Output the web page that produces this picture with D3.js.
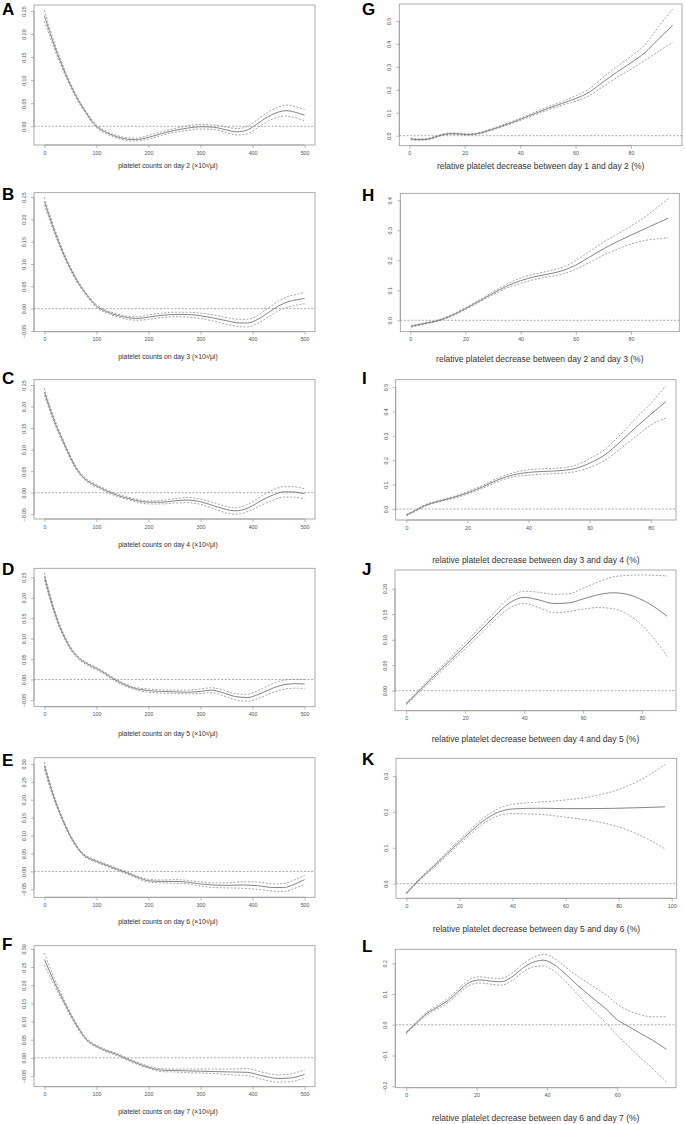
<!DOCTYPE html>
<html><head><meta charset="utf-8">
<script src="https://cdn.jsdelivr.net/npm/d3@7"></script>
<style>body{margin:0;background:#fff}svg{display:block}</style>
</head><body>
<svg id="c" width="685" height="1124"></svg>
<script>
// ---------- DATA ----------
const panelLetters = ["A","B","C","D","E","F","G","H","I","J","K","L"];
const xLabels = [
  "platelet counts on day 2 (×10³/μl)",
  "platelet counts on day 3 (×10³/μl)",
  "platelet counts on day 4 (×10³/μl)",
  "platelet counts on day 5 (×10³/μl)",
  "platelet counts on day 6 (×10³/μl)",
  "platelet counts on day 7 (×10³/μl)",
  "relative platelet decrease between day 1 and day 2 (%)",
  "relative platelet decrease between day 2 and day 3 (%)",
  "relative platelet decrease between day 3 and day 4 (%)",
  "relative platelet decrease between day 4 and day 5 (%)",
  "relative platelet decrease between day 5 and day 6 (%)",
  "relative platelet decrease between day 6 and day 7 (%)"
];
const xTicksCount = [0,100,200,300,400,500];
const xTicks80 = [0,20,40,60,80];
const xTicks100 = [0,20,40,60,80,100];
const xTicks60 = [0,20,40,60];
const yTicks025 = [0,0.05,0.10,0.15,0.20,0.25];
const yTicksM025 = [-0.05,0,0.05,0.10,0.15,0.20,0.25];
const yTicksM030 = [-0.05,0,0.05,0.10,0.15,0.20,0.25,0.30];
const yTicks05 = [0,0.1,0.2,0.3,0.4,0.5];
const yTicks04 = [0,0.1,0.2,0.3,0.4];
const yTicks020 = [0,0.05,0.10,0.15,0.20];
const yTicks03 = [0,0.1,0.2,0.3];
const yTicksL = [-0.2,-0.1,0,0.1,0.2];

// Panel A
const A_x   = [0,10,20,30,40,50,60,70,80,90,100,120,140,160,175,200,225,250,275,300,325,350,370,390,410,430,450,465,480,500];
const A_fit = [0.240,0.205,0.172,0.143,0.115,0.090,0.067,0.047,0.030,0.013,0.000,-0.014,-0.023,-0.028,-0.029,-0.024,-0.016,-0.009,-0.004,-0.001,-0.002,-0.008,-0.012,-0.008,0.006,0.021,0.031,0.034,0.031,0.024];
const A_lo  = [0.228,0.196,0.165,0.137,0.110,0.086,0.063,0.044,0.027,0.010,-0.003,-0.017,-0.026,-0.031,-0.032,-0.028,-0.020,-0.013,-0.009,-0.006,-0.007,-0.014,-0.019,-0.016,-0.003,0.011,0.020,0.022,0.019,0.012];
const A_hi  = [0.252,0.214,0.179,0.149,0.120,0.094,0.071,0.050,0.033,0.016,0.003,-0.011,-0.020,-0.025,-0.026,-0.020,-0.012,-0.005,0.001,0.004,0.003,-0.002,-0.005,0.000,0.015,0.031,0.042,0.046,0.043,0.036];
// Panel B
const B_x   = [0,10,20,30,40,50,60,70,80,90,100,120,140,160,180,200,225,250,275,300,325,350,375,390,410,430,450,470,485,500];
const B_fit = [0.240,0.205,0.172,0.142,0.114,0.090,0.068,0.049,0.033,0.018,0.006,-0.007,-0.015,-0.020,-0.022,-0.019,-0.015,-0.013,-0.013,-0.016,-0.021,-0.027,-0.032,-0.032,-0.024,-0.009,0.006,0.016,0.020,0.023];
const B_lo  = [0.232,0.198,0.166,0.137,0.110,0.086,0.064,0.046,0.030,0.015,0.003,-0.010,-0.018,-0.024,-0.026,-0.024,-0.020,-0.018,-0.019,-0.022,-0.028,-0.035,-0.040,-0.041,-0.033,-0.019,-0.005,0.004,0.008,0.011];
const B_hi  = [0.249,0.212,0.178,0.147,0.118,0.094,0.072,0.052,0.036,0.021,0.009,-0.004,-0.012,-0.017,-0.018,-0.014,-0.010,-0.008,-0.008,-0.010,-0.014,-0.020,-0.024,-0.024,-0.015,0.001,0.017,0.028,0.032,0.036];
// Panel C
const C_x   = [0,10,20,30,40,50,60,70,80,90,100,120,140,160,180,200,225,250,275,300,325,350,365,380,400,420,440,460,475,490,500];
const C_fit = [0.234,0.197,0.164,0.135,0.108,0.082,0.059,0.042,0.030,0.022,0.016,0.004,-0.006,-0.013,-0.019,-0.022,-0.022,-0.019,-0.017,-0.021,-0.030,-0.039,-0.042,-0.040,-0.030,-0.016,-0.005,0.002,0.002,0.000,-0.002];
const C_lo  = [0.226,0.191,0.159,0.130,0.104,0.078,0.055,0.039,0.027,0.019,0.013,0.001,-0.009,-0.016,-0.022,-0.026,-0.026,-0.024,-0.023,-0.027,-0.037,-0.047,-0.050,-0.048,-0.039,-0.027,-0.017,-0.010,-0.010,-0.012,-0.015];
const C_hi  = [0.243,0.204,0.170,0.140,0.112,0.086,0.063,0.045,0.033,0.025,0.019,0.007,-0.003,-0.010,-0.016,-0.019,-0.018,-0.014,-0.011,-0.015,-0.023,-0.032,-0.035,-0.032,-0.021,-0.006,0.007,0.014,0.014,0.012,0.009];
// Panel D
const D_x   = [0,10,20,30,40,50,60,70,80,90,100,115,135,155,175,200,225,250,275,300,320,340,365,390,410,430,450,470,485,500];
const D_fit = [0.252,0.205,0.163,0.128,0.100,0.077,0.060,0.048,0.040,0.033,0.027,0.016,0.000,-0.013,-0.022,-0.027,-0.029,-0.030,-0.031,-0.029,-0.026,-0.031,-0.041,-0.044,-0.037,-0.026,-0.016,-0.011,-0.010,-0.011];
const D_lo  = [0.243,0.198,0.157,0.123,0.096,0.073,0.057,0.045,0.037,0.030,0.024,0.013,-0.003,-0.016,-0.025,-0.031,-0.033,-0.034,-0.035,-0.034,-0.032,-0.038,-0.049,-0.053,-0.047,-0.036,-0.027,-0.022,-0.021,-0.022];
const D_hi  = [0.261,0.212,0.169,0.133,0.104,0.081,0.063,0.051,0.043,0.036,0.030,0.019,0.003,-0.010,-0.019,-0.023,-0.025,-0.026,-0.026,-0.023,-0.020,-0.024,-0.034,-0.036,-0.027,-0.015,-0.005,0.000,0.001,0.000];
// Panel E
const E_x   = [0,10,20,30,40,50,60,70,80,90,100,120,140,160,180,200,225,250,275,300,325,350,380,410,440,460,480,500];
const E_fit = [0.295,0.244,0.200,0.162,0.128,0.098,0.074,0.054,0.041,0.034,0.028,0.017,0.006,-0.005,-0.017,-0.026,-0.028,-0.028,-0.030,-0.035,-0.038,-0.039,-0.038,-0.040,-0.045,-0.045,-0.036,-0.023];
const E_lo  = [0.285,0.236,0.194,0.157,0.124,0.094,0.070,0.051,0.038,0.031,0.025,0.014,0.003,-0.008,-0.020,-0.030,-0.032,-0.033,-0.035,-0.041,-0.045,-0.046,-0.047,-0.050,-0.055,-0.056,-0.048,-0.035];
const E_hi  = [0.305,0.252,0.206,0.167,0.132,0.102,0.078,0.057,0.044,0.037,0.031,0.020,0.009,-0.002,-0.014,-0.022,-0.024,-0.023,-0.025,-0.029,-0.032,-0.032,-0.029,-0.030,-0.035,-0.034,-0.024,-0.011];
// Panel F
const F_x   = [0,10,20,30,40,50,60,70,80,90,100,120,140,160,180,200,225,250,275,300,330,360,390,420,450,470,500];
const F_fit = [0.271,0.238,0.206,0.176,0.148,0.120,0.094,0.071,0.052,0.040,0.032,0.019,0.009,-0.004,-0.016,-0.026,-0.034,-0.035,-0.036,-0.037,-0.038,-0.039,-0.040,-0.050,-0.057,-0.056,-0.046];
const F_lo  = [0.255,0.226,0.197,0.169,0.142,0.115,0.090,0.067,0.049,0.037,0.029,0.016,0.006,-0.007,-0.019,-0.029,-0.038,-0.039,-0.041,-0.042,-0.044,-0.047,-0.049,-0.060,-0.067,-0.066,-0.056];
const F_hi  = [0.288,0.251,0.216,0.184,0.154,0.125,0.098,0.075,0.055,0.043,0.035,0.022,0.012,-0.001,-0.013,-0.023,-0.030,-0.031,-0.031,-0.031,-0.031,-0.031,-0.030,-0.040,-0.047,-0.045,-0.033];
// Panel G
const G_x   = [0.5,3,6,9,12,15,18,21,24,28,32,36,40,45,50,55,60,65,70,75,80,85,90,95];
const G_fit = [-0.014,-0.017,-0.016,-0.007,0.004,0.009,0.008,0.005,0.008,0.020,0.036,0.053,0.071,0.095,0.119,0.140,0.162,0.190,0.235,0.278,0.318,0.362,0.422,0.481];
const G_lo  = [-0.017,-0.020,-0.019,-0.010,0.001,0.006,0.005,0.002,0.005,0.017,0.032,0.049,0.066,0.089,0.112,0.132,0.150,0.175,0.215,0.254,0.290,0.328,0.368,0.407];
const G_hi  = [-0.011,-0.014,-0.013,-0.004,0.007,0.012,0.011,0.008,0.011,0.024,0.040,0.057,0.076,0.101,0.126,0.148,0.174,0.205,0.255,0.302,0.346,0.396,0.476,0.552];
// Panel H
const H_x   = [0.3,5,10,15,20,25,30,35,40,45,50,55,60,65,70,75,80,85,90,93.5];
const H_fit = [-0.020,-0.011,-0.001,0.016,0.039,0.064,0.090,0.114,0.132,0.145,0.154,0.165,0.184,0.211,0.238,0.262,0.284,0.305,0.326,0.340];
const H_lo  = [-0.023,-0.013,-0.003,0.013,0.036,0.060,0.085,0.108,0.123,0.136,0.145,0.154,0.170,0.193,0.217,0.237,0.254,0.266,0.272,0.275];
const H_hi  = [-0.017,-0.009,0.001,0.019,0.042,0.068,0.095,0.120,0.141,0.154,0.164,0.176,0.199,0.229,0.260,0.287,0.314,0.344,0.380,0.405];
// Panel I
const I_x   = [0,3,6,10,15,20,25,30,35,40,45,50,55,60,65,70,75,80,85];
const I_fit = [-0.025,-0.006,0.014,0.030,0.046,0.066,0.091,0.120,0.140,0.150,0.154,0.157,0.165,0.188,0.222,0.275,0.333,0.388,0.440];
const I_lo  = [-0.028,-0.009,0.011,0.027,0.042,0.061,0.085,0.113,0.132,0.139,0.143,0.146,0.152,0.170,0.200,0.246,0.296,0.344,0.372];
const I_hi  = [-0.022,-0.003,0.017,0.033,0.050,0.071,0.097,0.127,0.148,0.161,0.165,0.168,0.178,0.206,0.244,0.304,0.370,0.432,0.506];
// Panel J
const J_x   = [0,5,10,15,20,25,30,35,40,45,50,55,60,65,70,75,80,85,88.5];
const J_fit = [-0.026,0.003,0.032,0.060,0.088,0.117,0.146,0.172,0.183,0.178,0.171,0.172,0.180,0.188,0.192,0.189,0.178,0.161,0.146];
const J_lo  = [-0.028,0.000,0.028,0.055,0.082,0.110,0.138,0.162,0.171,0.163,0.153,0.155,0.160,0.163,0.161,0.150,0.128,0.095,0.067];
const J_hi  = [-0.024,0.006,0.036,0.065,0.094,0.124,0.154,0.182,0.195,0.193,0.189,0.190,0.201,0.213,0.223,0.226,0.227,0.226,0.225];
// Panel K
const K_x   = [0,5,10,15,20,25,30,35,40,50,60,70,80,90,97.5];
const K_fit = [-0.027,0.012,0.046,0.081,0.116,0.150,0.180,0.200,0.208,0.210,0.209,0.209,0.210,0.212,0.214];
const K_lo  = [-0.029,0.009,0.042,0.076,0.110,0.143,0.172,0.190,0.195,0.193,0.185,0.175,0.158,0.128,0.097];
const K_hi  = [-0.025,0.015,0.050,0.086,0.122,0.157,0.188,0.210,0.221,0.227,0.233,0.243,0.262,0.296,0.332];
// Panel L
const L_x   = [0,3,6,9,12,15,18,21,24,27,30,33,36,39,42,45,48,51,54,57,60,63,66,70,74];
const L_fit = [-0.026,0.007,0.038,0.058,0.080,0.110,0.138,0.146,0.142,0.140,0.155,0.183,0.203,0.210,0.196,0.168,0.136,0.106,0.078,0.050,0.016,-0.004,-0.024,-0.050,-0.080];
const L_lo  = [-0.029,0.004,0.033,0.052,0.073,0.102,0.129,0.136,0.132,0.129,0.143,0.170,0.188,0.191,0.175,0.145,0.108,0.071,0.037,0.004,-0.035,-0.067,-0.100,-0.142,-0.186];
const L_hi  = [-0.023,0.010,0.043,0.064,0.087,0.118,0.147,0.156,0.152,0.151,0.167,0.196,0.218,0.229,0.217,0.191,0.164,0.141,0.119,0.096,0.067,0.047,0.035,0.026,0.026];

// ---------- LAYOUT ----------
const panels = [
  {xs:A_x,fit:A_fit,lo:A_lo,hi:A_hi,box:[34,5,315,145],xd:[-20,520],yd:[-0.0406,0.263],xt:xTicksCount,yt:yTicks025,yf:".2f",side:0,lab:[2,15],axY:168},
  {xs:B_x,fit:B_fit,lo:B_lo,hi:B_hi,box:[34,192.7,315,331.7],xd:[-20,520],yd:[-0.0516,0.2596],xt:xTicksCount,yt:yTicksM025,yf:".2f",side:0,lab:[2,200],axY:359},
  {xs:C_x,fit:C_fit,lo:C_lo,hi:C_hi,box:[34,379.7,315,519],xd:[-20,520],yd:[-0.061,0.2624],xt:xTicksCount,yt:yTicksM025,yf:".2f",side:0,lab:[2,384],axY:546.5},
  {xs:D_x,fit:D_fit,lo:D_lo,hi:D_hi,box:[34,568.3,315,706.7],xd:[-20,520],yd:[-0.0664,0.272],xt:xTicksCount,yt:yTicksM025,yf:".2f",side:0,lab:[2,575],axY:735.5},
  {xs:E_x,fit:E_fit,lo:E_lo,hi:E_hi,box:[34,757.7,315,897.3],xd:[-20,520],yd:[-0.0723,0.3175],xt:xTicksCount,yt:yTicksM030,yf:".2f",side:0,lab:[2,766],axY:924},
  {xs:F_x,fit:F_fit,lo:F_lo,hi:F_hi,box:[34,945.7,315,1086.7],xd:[-20,520],yd:[-0.0796,0.309],xt:xTicksCount,yt:yTicksM030,yf:".2f",side:0,lab:[2,950],axY:1114},
  {xs:G_x,fit:G_fit,lo:G_lo,hi:G_hi,box:[399.3,4,682,145.7],xd:[-3.6,98.4],yd:[-0.0436,0.574],xt:xTicks80,yt:yTicks05,yf:".1f",side:1,lab:[362,15],axY:168.5},
  {xs:H_x,fit:H_fit,lo:H_lo,hi:H_hi,box:[400.3,193.3,679.3,331.7],xd:[-3.6,97.5],yd:[-0.038,0.4233],xt:xTicks80,yt:yTicks04,yf:".1f",side:1,lab:[362,201],axY:362},
  {xs:I_x,fit:I_fit,lo:I_lo,hi:I_hi,box:[395.7,379.7,676,520],xd:[-3.5,88.3],yd:[-0.045,0.530],xt:xTicks80,yt:yTicks05,yf:".1f",side:1,lab:[362,384],axY:563},
  {xs:J_x,fit:J_fit,lo:J_lo,hi:J_hi,box:[395,570,676,710.7],xd:[-3.8,91.5],yd:[-0.0392,0.2367],xt:xTicks80,yt:yTicks020,yf:".2f",side:1,lab:[362,575],axY:742},
  {xs:K_x,fit:K_fit,lo:K_lo,hi:K_hi,box:[396,758.3,676.7,898.3],xd:[-3.9,101.9],yd:[-0.0407,0.349],xt:xTicks100,yt:yTicks03,yf:".1f",side:1,lab:[362,765],axY:932},
  {xs:L_x,fit:L_fit,lo:L_lo,hi:L_hi,box:[395.3,949.3,676,1087.7],xd:[-3.1,76.7],yd:[-0.2046,0.2455],xt:xTicks60,yt:yTicksL,yf:".1f",side:1,lab:[362,952],axY:1120.5}
];

const svg = d3.select("#c");
const fontFam = "'Liberation Sans', Arial, Helvetica, sans-serif";

panels.forEach((p, i) => {
  const [x0, y0, x1, y1] = p.box;
  const x = d3.scaleLinear().domain(p.xd).range([x0, x1]);
  const y = d3.scaleLinear().domain(p.yd).range([y1, y0]);
  const g = svg.append("g");

  // zero reference line
  g.append("line").attr("x1", x0).attr("x2", x1).attr("y1", y(0)).attr("y2", y(0))
    .attr("stroke", "#888").attr("stroke-width", 0.7).attr("stroke-dasharray", "2,1.6");

  const line = d3.line().x(d => x(d[0])).y(d => y(d[1])).curve(d3.curveMonotoneX);
  const mk = arr => p.xs.map((v, k) => [v, arr[k]]);
  g.append("path").attr("d", line(mk(p.lo))).attr("fill", "none")
    .attr("stroke", "#888").attr("stroke-width", 0.75).attr("stroke-dasharray", "2,1.6");
  g.append("path").attr("d", line(mk(p.hi))).attr("fill", "none")
    .attr("stroke", "#888").attr("stroke-width", 0.75).attr("stroke-dasharray", "2,1.6");
  g.append("path").attr("d", line(mk(p.fit))).attr("fill", "none")
    .attr("stroke", "#666").attr("stroke-width", 0.8);

  // box
  g.append("rect").attr("x", x0).attr("y", y0).attr("width", x1 - x0).attr("height", y1 - y0)
    .attr("fill", "none").attr("stroke", "#999").attr("stroke-width", 0.8);

  // x axis
  const xa = d3.axisBottom(x).tickValues(p.xt).tickSize(3).tickPadding(3).tickFormat(d3.format("d"));
  const gx = g.append("g").attr("transform", `translate(0,${y1})`).call(xa);
  gx.select(".domain").attr("stroke", "#999").attr("stroke-width", 0.8)
    .attr("d", `M${x(p.xt[0])},0H${x(p.xt[p.xt.length-1])}`);
  gx.selectAll(".tick line").attr("stroke", "#999").attr("stroke-width", 0.7);
  gx.selectAll(".tick text").attr("font-size", 5.3).attr("fill", "#555").attr("font-family", fontFam);

  // y axis
  const ya = d3.axisLeft(y).tickValues(p.yt).tickSize(3).tickFormat(d3.format(p.yf));
  const gy = g.append("g").attr("transform", `translate(${x0},0)`).call(ya);
  gy.select(".domain").attr("stroke", "#999").attr("stroke-width", 0.8)
    .attr("d", `M0,${y(p.yt[0])}V${y(p.yt[p.yt.length-1])}`);
  gy.selectAll(".tick line").attr("stroke", "#999").attr("stroke-width", 0.7);
  gy.selectAll(".tick text")
    .attr("font-size", 5.3).attr("fill", "#555").attr("font-family", fontFam)
    .attr("x", null).attr("dy", null)
    .attr("text-anchor", "middle")
    .attr("transform", "translate(-8,0) rotate(-90)");

  // axis label
  g.append("text")
    .attr("x", p.side === 0 ? 168 : (x0 + x1) / 2)
    .attr("y", p.axY)
    .attr("text-anchor", "middle")
    .attr("font-family", fontFam)
    .attr("font-size", p.side === 0 ? 6.8 : 8.5)
    .attr("fill", "#333")
    .text(xLabels[i]);

  // panel letter
  g.append("text").attr("x", p.lab[0]).attr("y", p.lab[1])
    .attr("font-family", fontFam).attr("font-weight", "bold").attr("font-size", 17)
    .attr("fill", "#000").text(panelLetters[i]);
});
</script>
</body></html>
